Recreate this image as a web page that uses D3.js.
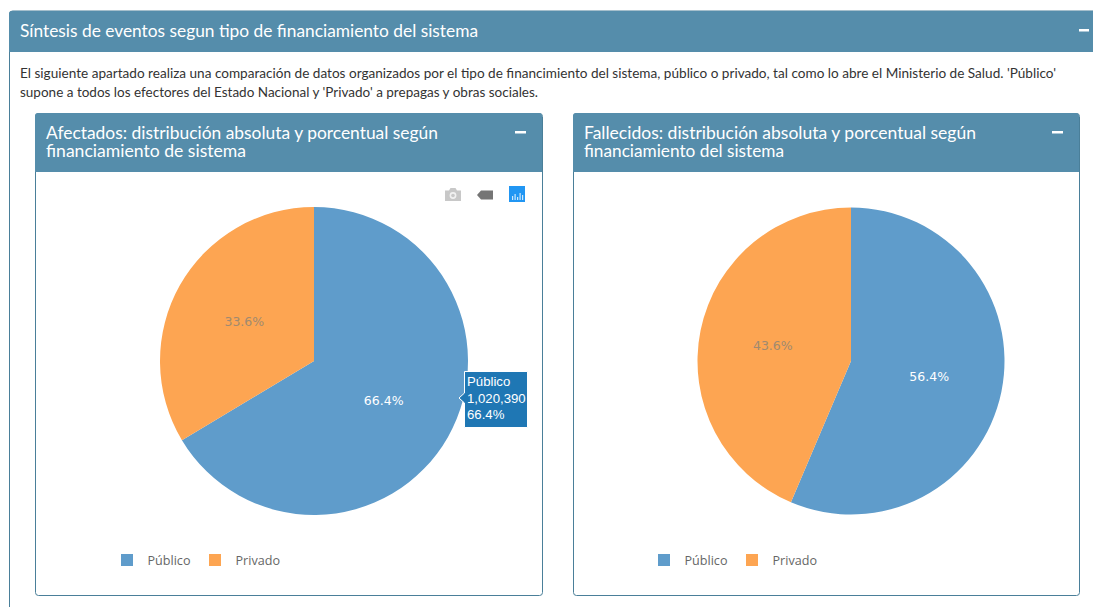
<!DOCTYPE html>
<html><head><meta charset="utf-8">
<script src="https://cdn.jsdelivr.net/npm/d3@7/dist/d3.min.js"></script>
<style>html,body{margin:0;padding:0;background:#fff;overflow:hidden}svg{display:block}</style>
</head><body><svg id="c" width="1093" height="608"></svg>
<script>
const categories = ["Público", "Privado"];
const colors = ["#5f9ccb", "#fda552"];
const afectados = [66.4, 33.6];
const fallecidos = [56.4, 43.6];
const mainTitle = "Síntesis de eventos segun tipo de financiamiento del sistema";
const introLines = [
  "El siguiente apartado realiza una comparación de datos organizados por el tipo de financimiento del sistema, público o privado, tal como lo abre el Ministerio de Salud. 'Público'",
  "supone a todos los efectores del Estado Nacional y 'Privado' a prepagas y obras sociales."
];
const panelTitles = [
  ["Afectados: distribución absoluta y porcentual según", "financiamiento de sistema"],
  ["Fallecidos: distribución absoluta y porcentual según", "financiamiento del sistema"]
];
const tooltipLines = ["Público", "1,020,390", "66.4%"];

const HEAD = "#558dab", EDGE = "#4a7f99";
const uiFont = "Lato, sans-serif";
const svg = d3.select("#c");

// outer box
svg.append("path").attr("d", "M9.5 607V14a3 3 0 0 1 3-3H1093").attr("fill", "none").attr("stroke", EDGE);
svg.append("path").attr("d", "M9 52V14a3 3 0 0 1 3-3H1093V52Z").attr("fill", HEAD);
svg.append("text").attr("x", 20).attr("y", 37).attr("fill", "#fff").attr("font-family", uiFont)
  .attr("font-size", 17).attr("textLength", 458).attr("lengthAdjust", "spacingAndGlyphs").text(mainTitle);
svg.append("rect").attr("x", 1079).attr("y", 29).attr("width", 10).attr("height", 2.5).attr("fill", "#fff");

const introW = [1036, 518];
introLines.forEach((t, i) => svg.append("text").attr("x", 20).attr("y", 78 + i * 19)
  .attr("fill", "#333").attr("font-family", uiFont).attr("font-size", 12.8)
  .attr("textLength", introW[i]).attr("lengthAdjust", "spacingAndGlyphs").text(t));

const panels = [
  {x: 35, w: 507, cx: 314, r: 154, data: afectados, lx: 121},
  {x: 573, w: 506, cx: 851, r: 153.5, data: fallecidos, lx: 658}
];
panels.forEach((p, i) => {
  const g = svg.append("g");
  g.append("rect").attr("x", p.x + .5).attr("y", 113.5).attr("width", p.w).attr("height", 482)
    .attr("rx", 3).attr("fill", "#fff").attr("stroke", EDGE);
  g.append("path").attr("d", `M${p.x} 172V116a3 3 0 0 1 3-3H${p.x + p.w - 3}a3 3 0 0 1 3 3V172Z`).attr("fill", HEAD);
  panelTitles[i].forEach((t, j) => g.append("text").attr("x", p.x + 11).attr("y", 139 + j * 18)
    .attr("fill", "#fff").attr("font-family", uiFont).attr("font-size", 17)
    .attr("textLength", [392, 200][j])
    .attr("lengthAdjust", "spacingAndGlyphs").text(t));
  g.append("rect").attr("x", p.x + p.w - 27).attr("y", 131).attr("width", 11).attr("height", 2.5).attr("fill", "#fff");

  // pie
  const pie = d3.pie().sort(null).value(d => d)(p.data);
  const arc = d3.arc().innerRadius(0).outerRadius(p.r);
  const labelArc = d3.arc().innerRadius(p.r * .52).outerRadius(p.r * .52);
  const pg = g.append("g").attr("transform", `translate(${p.cx},361)`);
  pg.selectAll("path").data(pie).join("path").attr("d", arc).attr("fill", (d, k) => colors[k]);
  pg.selectAll("text").data(pie).join("text")
    .attr("transform", d => `translate(${labelArc.centroid(d)})`)
    .attr("dy", 4.5).attr("text-anchor", "middle")
    .attr("font-family", "'DejaVu Sans', sans-serif").attr("font-size", 12.5)
    .attr("fill", (d, k) => k === 0 ? "#fff" : "#a08a70").text(d => d.value.toFixed(1) + "%");

  // legend
  const legendX = d3.scalePoint().domain(categories).range([p.lx, p.lx + 88]);
  categories.forEach((c, k) => {
    const x = legendX(c);
    g.append("rect").attr("x", x).attr("y", 554).attr("width", 12).attr("height", 12).attr("fill", colors[k]);
    g.append("text").attr("x", x + 26.5).attr("y", 565).attr("fill", "#666").attr("font-family", "'Open Sans', sans-serif")
      .attr("font-size", 12.6).text(c);
  });
});

// toolbar
const tb = svg.append("g");
tb.append("path").attr("d", "M445 190.500h4l1.500-2.500h5l1.500 2.500h4v10.500h-16Z").attr("fill", "#c8c8c8");
tb.append("circle").attr("cx", 453).attr("cy", 195.500).attr("r", 3.4).attr("fill", "#f1f1f1");
tb.append("circle").attr("cx", 453).attr("cy", 195.500).attr("r", 1.800).attr("fill", "#c8c8c8");
tb.append("path").attr("d", "M477 195l4-4.500h12v9h-12Z").attr("fill", "#757575");
tb.append("rect").attr("x", 509).attr("y", 186).attr("width", 16).attr("height", 16).attr("fill", "#2196f3");
[[512, 196, 4], [514.500, 194, 6], [517, 197, 3], [519.500, 193, 7], [522, 195, 5]].forEach(b =>
  tb.append("rect").attr("x", b[0]).attr("y", b[1]).attr("width", 1.200).attr("height", b[2]).attr("fill", "#cfe8fc"));

// hover label
const tip = svg.append("g");
tip.append("path").attr("d", "M464.500 371.500H527.500V427.500H464.500V403L459 398L464.500 393Z").attr("fill", "#1f77b4").attr("stroke", "#fff");
tooltipLines.forEach((t, i) => tip.append("text").attr("x", 467).attr("y", 386 + i * 16.500)
  .attr("fill", "#fff").attr("font-family", "'Liberation Sans', Arial, sans-serif").attr("font-size", 13.200).text(t));
</script></body></html>
